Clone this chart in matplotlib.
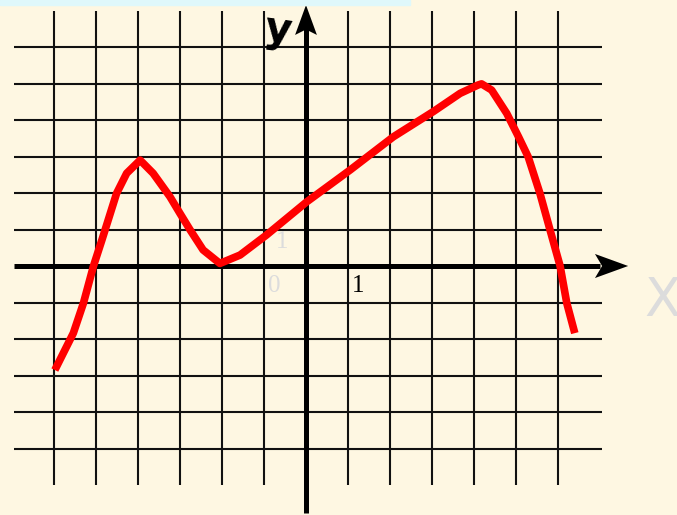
import matplotlib
matplotlib.use('Agg')
import matplotlib.pyplot as plt

BG    = '#FEF7E2'
CYAN  = '#DFF8FB'
RED   = '#FF0000'
BLACK = '#000000'
FAINT = '#DCDCDC'

# curve (grid units)
curve_x = [-5.98, -5.54, -5.30, -5.06, -4.86, -4.51, -4.27, -3.95, -3.64, -3.24,
           -3.0, -2.76, -2.45, -2.05, -1.57, -0.94, 0.02, 1.05, 2.08, 3.03,
           3.67, 4.10, 4.18, 4.42, 4.78, 5.06, 5.29, 5.57, 5.81, 6.05, 6.21, 6.40]
curve_y = [-2.85, -1.84, -1.02, 0.0, 0.71, 1.99, 2.54, 2.90, 2.54, 1.90,
           1.44, 0.99, 0.44, 0.07, 0.30, 0.85, 1.76, 2.63, 3.54, 4.23,
           4.73, 4.96, 4.99, 4.82, 4.18, 3.54, 2.99, 1.99, 0.99, 0.0, -1.02, -1.84]

grid_x = [-6, -5, -4, -3, -2, -1, 1, 2, 3, 4, 5, 6]
grid_y = [-5, -4, -3, -2, -1, 1, 2, 3, 4, 5, 6]

fig = plt.figure(figsize=(6.77, 5.15), dpi=100)
fig.patch.set_facecolor(BG)
ax = fig.add_axes([0, 0, 1, 1])
ax.set_facecolor(BG)
ax.set_xlim(-306 / 42, 371 / 42)
ax.set_ylim(-249 / 36.5, 266 / 36.5)
ax.axis('off')

# light strip at the top
fig.patches.append(plt.Rectangle((0, 1 - 5 / 515), 410 / 677, 5 / 515,
                                 transform=fig.transFigure, color=CYAN, zorder=0))

# grid
ax.vlines(grid_x, -6.0, 7.0, color='#111111', lw=1.5, zorder=1)
ax.hlines(grid_y, -6.95, 7.05, color='#111111', lw=1.5, zorder=1)

# axes
ax.plot([-6.95, 7.0], [0, 0], color=BLACK, lw=3.6, zorder=2, solid_capstyle='butt')
ax.plot([0, 0], [-6.77, 6.6], color=BLACK, lw=3.6, zorder=2, solid_capstyle='butt')
ax.fill([7.67, 6.88, 7.05, 6.88], [0, 0.33, 0, -0.33], color=BLACK, lw=0, zorder=2)
ax.fill([0, -0.26, 0, 0.26], [7.15, 6.33, 6.48, 6.33], color=BLACK, lw=0, zorder=2)

# curve
ax.plot(curve_x, curve_y, color=RED, lw=5.5, zorder=3,
        solid_joinstyle='round', solid_capstyle='butt')

# labels
ax.text(-0.67, 6.45, 'y', fontsize=30, color=BLACK, ha='center', va='center',
        rotation=-8, fontweight='bold', family='DejaVu Sans')
ax.text(8.05, -0.95, 'X', fontsize=38, color=FAINT, ha='left', va='center',
        family='DejaVu Sans')
ax.text(-0.57, 0.65, '1', fontsize=18, color=FAINT, ha='center', va='center',
        family='Liberation Serif')
ax.text(-0.75, -0.55, '0', fontsize=18, color=FAINT, ha='center', va='center',
        family='Liberation Serif')
ax.text(1.24, -0.55, '1', fontsize=18, color=BLACK, ha='center', va='center',
        family='Liberation Serif')

fig.savefig('out.png', dpi=100, facecolor=BG)
